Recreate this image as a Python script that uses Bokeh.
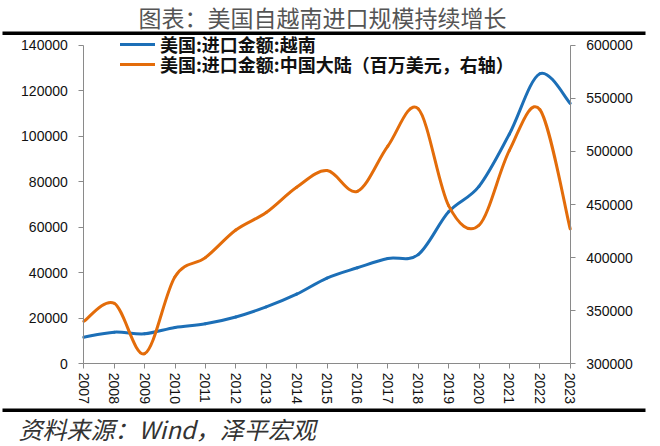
from bokeh.plotting import figure
from bokeh.models import (Range1d, LinearAxis, FixedTicker, SingleIntervalTicker,
                          BasicTickFormatter, Legend, LegendItem, Label, BoxAnnotation)
from bokeh.embed import file_html
from bokeh.resources import INLINE

# data (millions of USD)
years = list(range(2007, 2024))
vietnam = [11700, 13900, 13200, 16000, 17600, 20600, 25000, 30600, 37700, 42200,
           46300, 48000, 66800, 78000, 101000, 127500, 114500]
china = [340000, 357000, 309500, 382000, 400000, 426000, 442500, 466300, 482000, 462500,
         505000, 540200, 449000, 430500, 501000, 539500, 427000]

title_text = "图表：美国自越南进口规模持续增长"
source_text = "资料来源：Wind，泽平宏观"
label_vn = "美国:进口金额:越南"
label_cn = "美国:进口金额:中国大陆（百万美元，右轴）"

BLUE = "#1C6FB7"
ORANGE = "#E36C0A"
AXIS_GREY = "#8a8a8a"

W, H = 660, 446
# where the axes sit on the canvas (px)
X_LEFT, X_RIGHT = 83.3, 569.7
Y_BOTTOM, Y_TOP = 363.3, 44.8
YL = (0, 140000)
YR = (300000, 600000)


def smooth_parts(xs, ys, k=6.0):
    # excel-like smoothed line: bezier control points from neighbouring points
    n = len(xs)
    out = dict(x0=[], y0=[], x1=[], y1=[], cx0=[], cy0=[], cx1=[], cy1=[])
    for i in range(n - 1):
        a = max(i - 1, 0)
        d = min(i + 2, n - 1)
        out["x0"].append(xs[i]); out["y0"].append(ys[i])
        out["x1"].append(xs[i + 1]); out["y1"].append(ys[i + 1])
        out["cx0"].append(xs[i] + (xs[i + 1] - xs[a]) / k)
        out["cy0"].append(ys[i] + (ys[i + 1] - ys[a]) / k)
        out["cx1"].append(xs[i + 1] - (xs[d] - xs[i]) / k)
        out["cy1"].append(ys[i + 1] - (ys[d] - ys[i]) / k)
    return out


def x_span(lo, hi):
    per = (X_RIGHT - X_LEFT) / (hi - lo)
    return Range1d(lo - X_LEFT / per, hi + (W - X_RIGHT) / per)


def y_span(lo, hi):
    per = (Y_BOTTOM - Y_TOP) / (hi - lo)
    return Range1d(lo - (H - Y_BOTTOM) / per, hi + Y_TOP / per)


# the frame fills the whole canvas, axes are pinned inside it
p = figure(width=W, height=H, output_backend="svg", toolbar_location=None,
           x_range=x_span(years[0], years[-1]), y_range=y_span(*YL),
           x_axis_location=None, y_axis_location=None, min_border=0)
p.extra_y_ranges = {"right": y_span(*YR)}
p.outline_line_color = None
p.grid.visible = False

r_vn = p.bezier(**smooth_parts(years, vietnam), line_color=BLUE, line_width=3, line_cap="round")
r_cn = p.bezier(**smooth_parts(years, china), line_color=ORANGE, line_width=3, line_cap="round",
                y_range_name="right")

xax = LinearAxis(fixed_location=YL[0], bounds=(years[0], years[-1]),
                 ticker=FixedTicker(ticks=years))
lax = LinearAxis(fixed_location=years[0], bounds=YL, ticker=SingleIntervalTicker(interval=20000))
rax = LinearAxis(y_range_name="right", fixed_location=years[-1], bounds=YR,
                 ticker=SingleIntervalTicker(interval=50000))
p.add_layout(xax, "below")
p.add_layout(lax, "left")
p.add_layout(rax, "right")

for ax in (lax, rax):
    ax.formatter = BasicTickFormatter(use_scientific=False)
    ax.major_label_standoff = 11
xax.major_label_orientation = "vertical"
xax.major_label_standoff = 4

for ax in (xax, lax, rax):
    ax.major_label_text_font = "Liberation Sans"
    ax.major_label_text_font_size = "14px"
    ax.major_label_text_color = "#111111"
    ax.axis_line_color = AXIS_GREY
    ax.major_tick_line_color = AXIS_GREY
    ax.major_tick_out = 5
    ax.major_tick_in = 0
    ax.minor_tick_line_color = None

# one legend per row so each row sits where the reference has it
for i, (r, lab) in enumerate([(r_vn, label_vn), (r_cn, label_cn)]):
    row_y = 44 + 20 * i
    p.add_layout(Legend(items=[LegendItem(label=lab, renderers=[r])],
                        location=(120, H - row_y - 15), border_line_color=None,
                        background_fill_alpha=0, padding=0, spacing=0, margin=0,
                        glyph_width=35, glyph_height=30, label_height=30, label_standoff=5,
                        label_text_font="Noto Sans CJK SC", label_text_font_style="bold",
                        label_text_font_size="18px", label_text_color="#111111"))

# title, source and the two black rules
p.add_layout(Label(x=322, y=16.7, x_units="canvas", y_units="canvas", text=title_text,
                   text_align="center", text_baseline="middle", text_font="Noto Sans CJK SC",
                   text_font_size="23px", text_color="#555555"))
p.add_layout(Label(x=18, y=428, x_units="canvas", y_units="canvas", text=source_text,
                   text_align="left", text_baseline="middle", text_font="Noto Sans CJK SC",
                   text_font_style="italic", text_font_size="24px", text_color="#333333"))
for top in (31, 408):
    p.add_layout(BoxAnnotation(left=2, right=645, top=top, bottom=top + 3.5,
                               left_units="canvas", right_units="canvas",
                               top_units="canvas", bottom_units="canvas",
                               fill_color="black", fill_alpha=1, line_color=None))

open("out.html", "w").write(file_html(p, INLINE))
